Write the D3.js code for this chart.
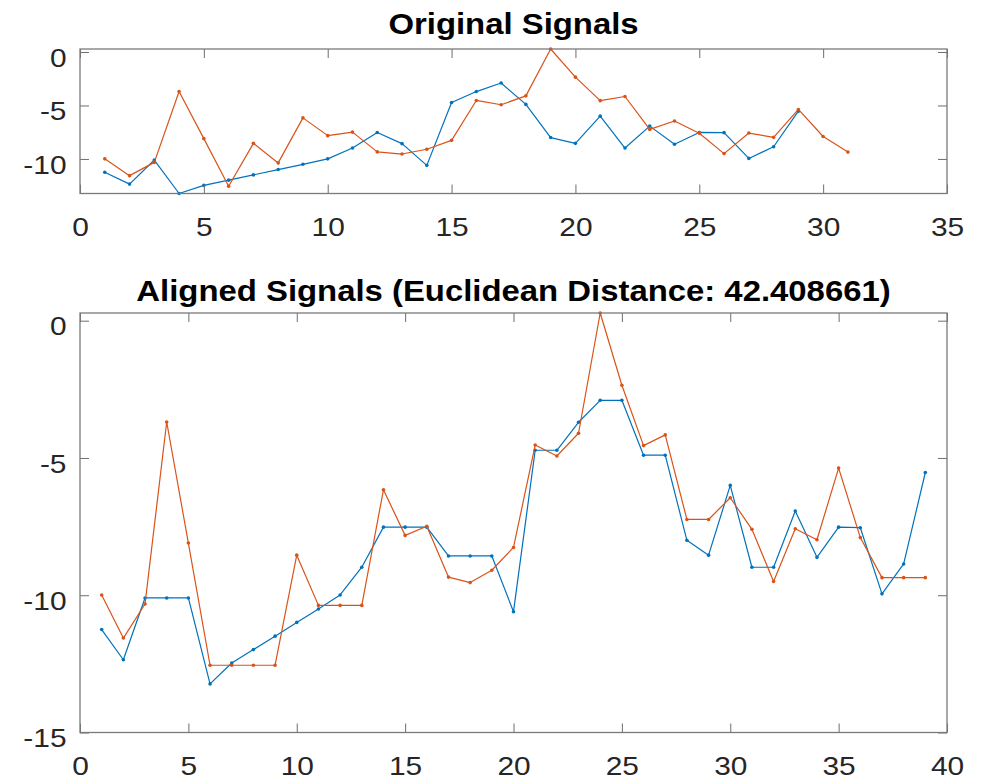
<!DOCTYPE html>
<html>
<head>
<meta charset="utf-8">
<script src="https://cdn.jsdelivr.net/npm/d3@7"></script>
<style>
  html, body { margin: 0; padding: 0; background: #fff; }
  svg { display: block; }
</style>
</head>
<body>
<svg id="chart" width="984" height="781"></svg>
<script>
// Signal 1 (blue) and signal 2 (orange)
const signalA = [-11.25, -12.35, -10.10, -13.23, -12.47, -11.98, -11.49, -10.99, -10.50, -9.99,
                 -8.98, -7.52, -8.57, -10.60, -4.72, -3.70, -2.90, -4.90, -8.00, -8.54,
                 -6.00, -8.98, -6.93, -8.62, -7.52, -7.54, -9.95, -8.86, -5.53];
const signalB = [-9.99, -11.56, -10.32, -3.69, -8.10, -12.55, -8.54, -10.37, -6.16, -7.82,
                 -7.49, -9.34, -9.54, -9.09, -8.26, -4.53, -4.93, -4.10, 0.28, -2.35,
                 -4.55, -4.16, -7.24, -6.45, -7.60, -9.50, -7.58, -7.98, -5.37, -7.90, -9.36];

// Warping path (1-based sample indices into each signal)
const pathA = [1, 2, 3, 3, 3, 4, 5, 6, 7, 8, 9, 10, 11, 12, 12, 12, 13, 13, 13, 14,
               15, 15, 16, 17, 17, 18, 18, 19, 20, 21, 22, 22, 23, 24, 25, 26, 27, 28, 29];
const pathB = [1, 2, 3, 4, 5, 6, 6, 6, 6, 7, 8, 8, 8, 9, 10, 11, 12, 13, 14, 15,
               16, 17, 18, 19, 20, 21, 22, 23, 23, 24, 25, 26, 27, 28, 29, 30, 31, 31, 31];

const distanceLabel = "42.408661";

const topXTicks = [0, 5, 10, 15, 20, 25, 30, 35];
const topYTicks = [-10, -5, 0];
const botXTicks = [0, 5, 10, 15, 20, 25, 30, 35, 40];
const botYTicks = [-15, -10, -5, 0];

const COLOR_A = "#0072BD";
const COLOR_B = "#D95319";
const SX = 1.15;           // horizontal stretch applied to text
const FONT = "'Liberation Sans', Arial, Helvetica, sans-serif";
const TICK_LEN = 9;

const svg = d3.select("#chart");

function toPoints(values) { return values.map((v, i) => [i + 1, v]); }

const alignedA = pathA.map((p, i) => [i + 1, signalA[p - 1]]);
const alignedB = pathB.map((p, i) => [i + 1, signalB[p - 1]]);

function drawPanel(opts) {
  const { left, right, top, bottom, xDomain, yDomain, xTicks, yTicks, series, title, titleY } = opts;
  const x = d3.scaleLinear().domain(xDomain).range([left, right]);
  const y = d3.scaleLinear().domain(yDomain).range([bottom, top]);
  const g = svg.append("g");

  // data lines with dot markers
  const line = d3.line().x(d => x(d[0])).y(d => y(d[1]));
  series.forEach(s => {
    g.append("path").datum(s.points)
      .attr("fill", "none").attr("stroke", s.color)
      .attr("stroke-width", 1.2).attr("stroke-linejoin", "round")
      .attr("d", line);
    g.selectAll(null).data(s.points).join("circle")
      .attr("cx", d => x(d[0])).attr("cy", d => y(d[1]))
      .attr("r", 1.8).attr("fill", s.color);
  });

  const fmt = d => String(d);

  const axB = g.append("g").attr("transform", `translate(0,${bottom})`)
    .call(d3.axisBottom(x).tickValues(xTicks).tickSize(-TICK_LEN).tickFormat(fmt));
  const axT = g.append("g").attr("transform", `translate(0,${top})`)
    .call(d3.axisTop(x).tickValues(xTicks).tickSize(-TICK_LEN).tickFormat(""));
  const axL = g.append("g").attr("transform", `translate(${left},0)`)
    .call(d3.axisLeft(y).tickValues(yTicks).tickSize(-TICK_LEN).tickFormat(fmt));
  const axR = g.append("g").attr("transform", `translate(${right},0)`)
    .call(d3.axisRight(y).tickValues(yTicks).tickSize(-TICK_LEN).tickFormat(""));

  [axB, axT, axL, axR].forEach(a => {
    a.select(".domain").remove();
    a.selectAll(".tick line").attr("stroke", "#6e6e6e").attr("stroke-width", 1);
  });

  axB.selectAll(".tick text")
    .attr("x", null).attr("y", null).attr("dy", null)
    .attr("transform", `translate(0,42.5) scale(${SX},1)`)
    .attr("text-anchor", "middle")
    .style("font-family", FONT).style("font-size", "26px").attr("fill", "#262626");
  axL.selectAll(".tick text")
    .attr("x", null).attr("y", null).attr("dy", null)
    .attr("transform", `translate(-13.5,14.3) scale(${SX},1)`)
    .attr("text-anchor", "end")
    .style("font-family", FONT).style("font-size", "26px").attr("fill", "#262626");

  // axes box
  g.append("rect")
    .attr("x", left).attr("y", top)
    .attr("width", right - left).attr("height", bottom - top)
    .attr("fill", "none").attr("stroke", "#7a7a7a").attr("stroke-width", 1.3);

  g.append("text")
    .attr("transform", `translate(${(left + right) / 2},${titleY}) scale(${SX},1)`)
    .attr("text-anchor", "middle")
    .style("font-family", FONT).style("font-size", "28.6px").style("font-weight", "bold")
    .attr("fill", "#000")
    .text(title);
}

const all = signalA.concat(signalB);
const topExtent = d3.extent(all);

drawPanel({
  left: 80, right: 947, top: 49, bottom: 193.5,
  xDomain: [0, 35], yDomain: topExtent,
  xTicks: topXTicks, yTicks: topYTicks,
  series: [
    { points: toPoints(signalA), color: COLOR_A },
    { points: toPoints(signalB), color: COLOR_B }
  ],
  title: "Original Signals", titleY: 33.5
});

drawPanel({
  left: 80, right: 947, top: 313, bottom: 732.5,
  xDomain: [0, 40], yDomain: [-15, topExtent[1]],
  xTicks: botXTicks, yTicks: botYTicks,
  series: [
    { points: alignedA, color: COLOR_A },
    { points: alignedB, color: COLOR_B }
  ],
  title: `Aligned Signals (Euclidean Distance: ${distanceLabel})`, titleY: 301
});
</script>
</body>
</html>
